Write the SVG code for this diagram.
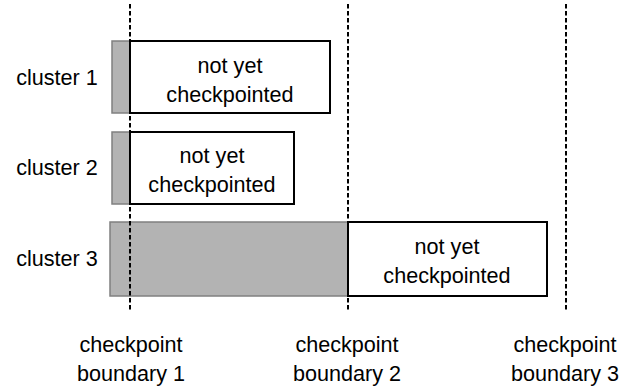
<svg xmlns="http://www.w3.org/2000/svg" width="636" height="388" viewBox="0 0 636 388">
<style>
text{font-family:"Liberation Sans",Arial,sans-serif;font-size:21.6px;fill:#000;text-anchor:middle}
.done{fill:#b3b3b3;stroke:#808080;stroke-width:1.5}
.todo{fill:#fff;stroke:#000;stroke-width:2}
.bnd{stroke:#000;stroke-width:2;stroke-dasharray:4.5 2.5;fill:none}
</style>
<rect width="636" height="388" fill="#fff"/>
<g id="cluster1">
<text x="57" y="85">cluster 1</text>
<rect class="done" x="112" y="41" width="18" height="72"/>
<rect class="todo" x="130" y="41" width="200" height="72"/>
<text x="230" y="73">not yet</text>
<text x="230" y="102">checkpointed</text>
</g>
<g id="cluster2">
<text x="57" y="175">cluster 2</text>
<rect class="done" x="112" y="132" width="18" height="72"/>
<rect class="todo" x="130" y="132" width="164" height="72"/>
<text x="212" y="163">not yet</text>
<text x="212" y="192">checkpointed</text>
</g>
<g id="cluster3">
<text x="57" y="266">cluster 3</text>
<rect class="done" x="110" y="222" width="238" height="74"/>
<rect class="todo" x="348" y="222" width="199" height="74"/>
<text x="447" y="254">not yet</text>
<text x="447" y="283">checkpointed</text>
</g>
<g id="connectors">
<line class="bnd" x1="130" y1="4" x2="130" y2="312"/>
<line class="bnd" x1="348" y1="4" x2="348" y2="312"/>
<line class="bnd" x1="566" y1="4" x2="566" y2="312"/>
</g>
<g id="boundary1">
<text x="131" y="352">checkpoint</text>
<text x="131" y="381">boundary 1</text>
</g>
<g id="boundary2">
<text x="347" y="352">checkpoint</text>
<text x="347" y="381">boundary 2</text>
</g>
<g id="boundary3">
<text x="565" y="352">checkpoint</text>
<text x="565" y="381">boundary 3</text>
</g>
</svg>
